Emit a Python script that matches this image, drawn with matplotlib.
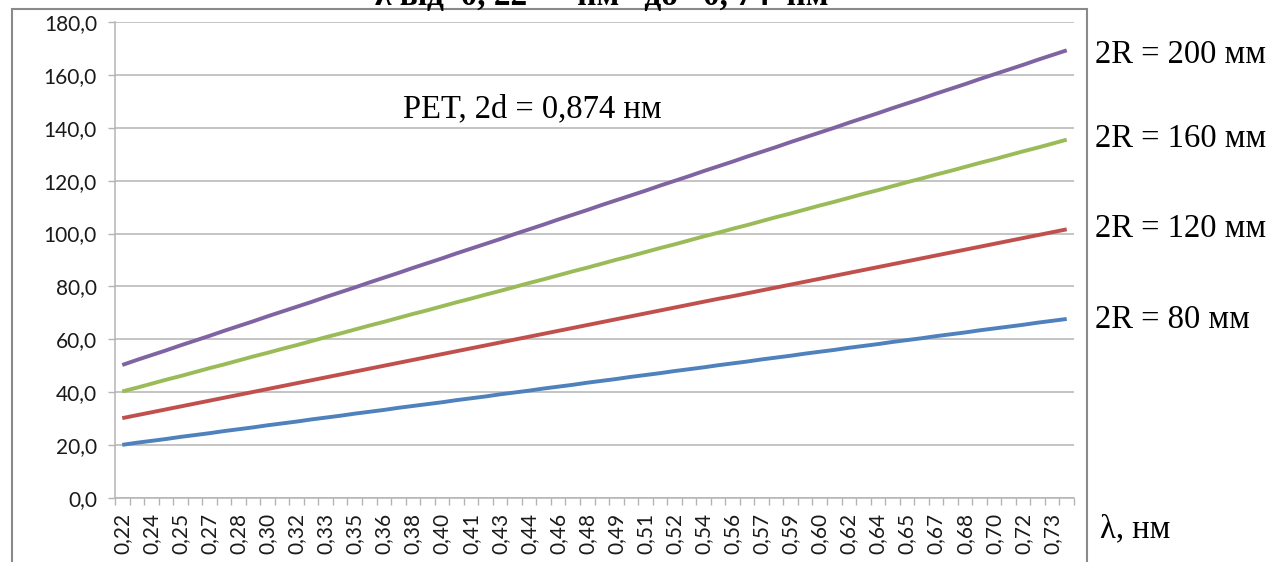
import numpy as np
import matplotlib
matplotlib.use("Agg")
import matplotlib.pyplot as plt
from matplotlib.patches import Rectangle

# wavelength, nm
lam = [0.220, 0.228, 0.236, 0.244, 0.252, 0.260, 0.268, 0.276, 0.284, 0.292,
       0.300, 0.308, 0.316, 0.324, 0.332, 0.340, 0.348, 0.356, 0.364, 0.372,
       0.380, 0.388, 0.396, 0.404, 0.412, 0.420, 0.428, 0.436, 0.444, 0.452,
       0.460, 0.468, 0.476, 0.484, 0.492, 0.500, 0.508, 0.516, 0.524, 0.532,
       0.540, 0.548, 0.556, 0.564, 0.572, 0.580, 0.588, 0.596, 0.604, 0.612,
       0.620, 0.628, 0.636, 0.644, 0.652, 0.660, 0.668, 0.676, 0.684, 0.692,
       0.700, 0.708, 0.716, 0.724, 0.732, 0.740]

lam_labels = ["0,22", "0,24", "0,25", "0,27", "0,28", "0,30", "0,32", "0,33",
              "0,35", "0,36", "0,38", "0,40", "0,41", "0,43", "0,44", "0,46",
              "0,48", "0,49", "0,51", "0,52", "0,54", "0,56", "0,57", "0,59",
              "0,60", "0,62", "0,64", "0,65", "0,67", "0,68", "0,70", "0,72",
              "0,73"]

r80 = [20.1, 20.9, 21.6, 22.3, 23.1, 23.8, 24.5, 25.3, 26.0, 26.7,
       27.5, 28.2, 28.9, 29.7, 30.4, 31.1, 31.9, 32.6, 33.3, 34.1,
       34.8, 35.5, 36.2, 37.0, 37.7, 38.4, 39.2, 39.9, 40.6, 41.4,
       42.1, 42.8, 43.6, 44.3, 45.0, 45.8, 46.5, 47.2, 48.0, 48.7,
       49.4, 50.2, 50.9, 51.6, 52.4, 53.1, 53.8, 54.6, 55.3, 56.0,
       56.8, 57.5, 58.2, 59.0, 59.7, 60.4, 61.2, 61.9, 62.6, 63.4,
       64.1, 64.8, 65.5, 66.3, 67.0, 67.7]

r120 = [30.2, 31.3, 32.4, 33.5, 34.6, 35.7, 36.8, 37.9, 39.0, 40.1,
        41.2, 42.3, 43.4, 44.5, 45.6, 46.7, 47.8, 48.9, 50.0, 51.1,
        52.2, 53.3, 54.4, 55.5, 56.6, 57.7, 58.8, 59.9, 61.0, 62.1,
        63.2, 64.3, 65.4, 66.5, 67.6, 68.7, 69.8, 70.9, 72.0, 73.1,
        74.2, 75.3, 76.3, 77.4, 78.5, 79.6, 80.7, 81.8, 82.9, 84.0,
        85.1, 86.2, 87.3, 88.4, 89.5, 90.6, 91.7, 92.8, 93.9, 95.0,
        96.1, 97.2, 98.3, 99.4, 100.5, 101.6]

r160 = [40.3, 41.7, 43.2, 44.7, 46.1, 47.6, 49.1, 50.5, 52.0, 53.5,
        54.9, 56.4, 57.8, 59.3, 60.8, 62.2, 63.7, 65.2, 66.6, 68.1,
        69.6, 71.0, 72.5, 74.0, 75.4, 76.9, 78.3, 79.8, 81.3, 82.7,
        84.2, 85.7, 87.1, 88.6, 90.1, 91.5, 93.0, 94.5, 95.9, 97.4,
        98.9, 100.3, 101.8, 103.2, 104.7, 106.2, 107.6, 109.1, 110.6, 112.0,
        113.5, 115.0, 116.4, 117.9, 119.4, 120.8, 122.3, 123.7, 125.2, 126.7,
        128.1, 129.6, 131.1, 132.5, 134.0, 135.5]

r200 = [50.3, 52.2, 54.0, 55.8, 57.7, 59.5, 61.3, 63.2, 65.0, 66.8,
        68.7, 70.5, 72.3, 74.1, 76.0, 77.8, 79.6, 81.5, 83.3, 85.1,
        87.0, 88.8, 90.6, 92.5, 94.3, 96.1, 97.9, 99.8, 101.6, 103.4,
        105.3, 107.1, 108.9, 110.8, 112.6, 114.4, 116.2, 118.1, 119.9, 121.7,
        123.6, 125.4, 127.2, 129.1, 130.9, 132.7, 134.6, 136.4, 138.2, 140.0,
        141.9, 143.7, 145.5, 147.4, 149.2, 151.0, 152.9, 154.7, 156.5, 158.4,
        160.2, 162.0, 163.8, 165.7, 167.5, 169.3]

W, H = 1273, 562
fig = plt.figure(figsize=(W / 100, H / 100), dpi=100)
ax = fig.add_axes([115 / W, 1 - 498 / H, 959 / W, 476 / H])

grid_c = "#b4b4b4"
ax.plot(lam, r80, color="#4f81bd", lw=2.8, solid_capstyle="butt")
ax.plot(lam, r120, color="#c0504d", lw=2.8, solid_capstyle="butt")
ax.plot(lam, r160, color="#9bbb59", lw=2.8, solid_capstyle="butt")
ax.plot(lam, r200, color="#8064a2", lw=2.8, solid_capstyle="butt")

ax.set_xlim(0.216, 0.744)
ax.set_ylim(0, 180)
ax.set_yticks(np.arange(0, 181, 20))
ax.set_yticklabels([f"{v},0" for v in range(0, 181, 20)])
ax.set_xticks(lam[::2])
ax.set_xticklabels(lam_labels, rotation=90)
ax.set_xticks(np.arange(0.216, 0.745, 0.008), minor=True)

for lbl in ax.get_xticklabels() + ax.get_yticklabels():
    lbl.set_fontfamily("Lato")
    lbl.set_fontsize(15)
    lbl.set_color("#1a1a1a")

ax.tick_params(axis="x", which="major", length=0, pad=11)
ax.tick_params(axis="x", which="minor", length=5, width=1, color=grid_c, direction="out")
ax.tick_params(axis="y", length=5, width=1, color=grid_c, pad=8)
ax.grid(axis="y", color=grid_c, lw=1.1)
ax.set_axisbelow(True)
for s in ["top", "right"]:
    ax.spines[s].set_visible(False)
for s in ["left", "bottom"]:
    ax.spines[s].set_color(grid_c)
    ax.spines[s].set_linewidth(1.1)

# chart frame
fig.patches.append(Rectangle((12 / W, -0.05), (1087 - 12) / W, 1.05 - 9 / H,
                             transform=fig.transFigure, fill=False,
                             edgecolor="#8a8a8a", lw=1.5))

serif = "Liberation Serif"
fs = 23.5
fig.text(403 / W, 1 - 117 / H, "PET, 2d = 0,874 нм", family=serif, fontsize=fs, va="baseline")
for txt, yb in [("2R = 200 мм", 63), ("2R = 160 мм", 147),
                ("2R = 120 мм", 237), ("2R = 80 мм", 328)]:
    fig.text(1095 / W, 1 - yb / H, txt, family=serif, fontsize=fs, va="baseline")
fig.text(1100 / W, 1 - 537 / H, "λ, нм", family=serif, fontsize=fs, va="baseline")

# heading above the chart, mostly cut off by the page edge
fig.text(375 / W, 1 - 5 / H, "λ від  0, 22  –  нм   до   0, 74  нм", family=serif,
         fontsize=24, fontweight="bold", va="baseline")

fig.savefig("out.png", dpi=100)
